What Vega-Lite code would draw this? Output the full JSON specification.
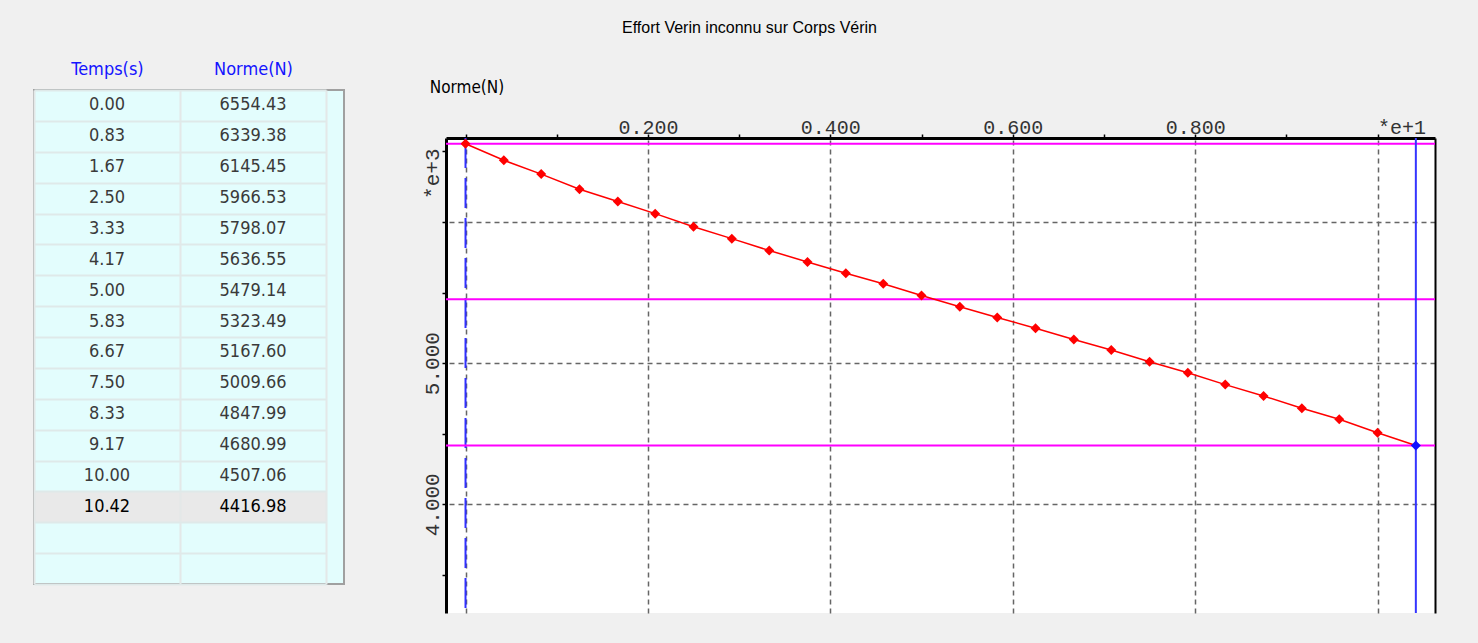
{
  "$schema": "https://vega.github.io/schema/vega-lite/v6.json",
  "background": "#f0f0f0",
  "padding": {"left": 33, "top": 20, "right": 43, "bottom": 35},
  "title": {"text": "Effort Verin inconnu sur Corps Vérin", "font": "Liberation Sans", "fontSize": 16, "fontWeight": "normal", "color": "#000", "anchor": "middle", "offset": 23, "dx": 15},
  "spacing": 76,
  "config": {"view": {"stroke": null}},
  "datasets": {
    "table": [
      {"row": 1, "t": 0.00, "n": 6554.43},
      {"row": 2, "t": 0.83, "n": 6339.38},
      {"row": 3, "t": 1.67, "n": 6145.45},
      {"row": 4, "t": 2.50, "n": 5966.53},
      {"row": 5, "t": 3.33, "n": 5798.07},
      {"row": 6, "t": 4.17, "n": 5636.55},
      {"row": 7, "t": 5.00, "n": 5479.14},
      {"row": 8, "t": 5.83, "n": 5323.49},
      {"row": 9, "t": 6.67, "n": 5167.60},
      {"row": 10, "t": 7.50, "n": 5009.66},
      {"row": 11, "t": 8.33, "n": 4847.99},
      {"row": 12, "t": 9.17, "n": 4680.99},
      {"row": 13, "t": 10.00, "n": 4507.06},
      {"row": 14, "t": 10.42, "n": 4416.98}
    ],
    "curve": [
      {"t": 0.00, "n": 6554.43},
      {"t": 0.42, "n": 6437},
      {"t": 0.83, "n": 6339.38},
      {"t": 1.25, "n": 6232},
      {"t": 1.67, "n": 6145.45},
      {"t": 2.08, "n": 6059},
      {"t": 2.50, "n": 5966.53},
      {"t": 2.92, "n": 5882},
      {"t": 3.33, "n": 5798.07},
      {"t": 3.75, "n": 5717},
      {"t": 4.17, "n": 5636.55},
      {"t": 4.58, "n": 5563},
      {"t": 5.00, "n": 5479.14},
      {"t": 5.42, "n": 5400},
      {"t": 5.83, "n": 5323.49},
      {"t": 6.25, "n": 5247},
      {"t": 6.67, "n": 5167.60},
      {"t": 7.08, "n": 5093},
      {"t": 7.50, "n": 5009.66},
      {"t": 7.92, "n": 4932},
      {"t": 8.33, "n": 4847.99},
      {"t": 8.75, "n": 4767},
      {"t": 9.17, "n": 4680.99},
      {"t": 9.58, "n": 4602},
      {"t": 10.00, "n": 4507.06},
      {"t": 10.42, "n": 4416.98}
    ],
    "cursors": [
      {"kind": "start", "t": 0},
      {"kind": "end", "t": 10.42}
    ],
    "levels": [
      {"n": 6554.43},
      {"n": 5452},
      {"n": 4416.98}
    ],
    "tabs": [
      {"series": "Norme(N)"}
    ]
  },
  "hconcat": [
    {
      "width": 310,
      "height": 494,
      "data": {"name": "table"},
      "view": {"fill": "#e3fdfd", "stroke": "#a0a0a0", "strokeWidth": 2},
      "encoding": {
        "y": {"field": "row", "type": "ordinal",
              "scale": {"type": "band", "domain": [1,2,3,4,5,6,7,8,9,10,11,12,13,14,15,16], "paddingInner": 0, "paddingOuter": 0},
              "axis": {"tickBand": "extent", "grid": true, "gridColor": "#dfe9e9", "gridWidth": 2, "labels": false, "ticks": false, "domain": false, "title": null}}
      },
      "layer": [
        {
          "transform": [{"filter": "datum.row == 14"}],
          "mark": {"type": "rect", "color": "#e9e9e9"},
          "encoding": {
            "x": {"datum": "Temps(s)", "type": "nominal",
                  "scale": {"type": "band", "domain": ["Temps(s)", "Norme(N)"], "range": [0, 292], "paddingInner": 0, "paddingOuter": 0},
                  "axis": {"orient": "top", "tickBand": "extent", "bandPosition": 0.5, "grid": true, "gridColor": "#e4e8e8", "gridWidth": 2, "ticks": false, "domain": false, "title": null, "labelAngle": 0, "labelAlign": "center", "labelBaseline": "bottom", "labelFont": "DejaVu Sans Condensed", "labelFontSize": 18, "labelColor": "#1414ff", "labelPadding": 12}}
          }
        },
        {
          "transform": [{"filter": "datum.row == 14"}],
          "mark": {"type": "rect", "color": "#e9e9e9"},
          "encoding": {
            "x": {"datum": "Norme(N)", "type": "nominal",
                  "scale": {"type": "band", "domain": ["Temps(s)", "Norme(N)"], "range": [0, 292], "paddingInner": 0, "paddingOuter": 0},
                  "axis": {"orient": "top", "tickBand": "extent", "bandPosition": 0.5, "grid": true, "gridColor": "#e4e8e8", "gridWidth": 2, "ticks": false, "domain": false, "title": null, "labelAngle": 0, "labelAlign": "center", "labelBaseline": "bottom", "labelFont": "DejaVu Sans Condensed", "labelFontSize": 18, "labelColor": "#1414ff", "labelPadding": 12}}
          }
        },
        {
          "mark": {"type": "text", "font": "DejaVu Sans Condensed", "fontSize": 18, "align": "center", "baseline": "middle"},
          "encoding": {
            "x": {"datum": "Temps(s)", "type": "nominal",
                  "scale": {"type": "band", "domain": ["Temps(s)", "Norme(N)"], "range": [0, 292], "paddingInner": 0, "paddingOuter": 0},
                  "axis": {"orient": "top", "tickBand": "extent", "bandPosition": 0.5, "grid": true, "gridColor": "#e4e8e8", "gridWidth": 2, "ticks": false, "domain": false, "title": null, "labelAngle": 0, "labelAlign": "center", "labelBaseline": "bottom", "labelFont": "DejaVu Sans Condensed", "labelFontSize": 18, "labelColor": "#1414ff", "labelPadding": 12}},
            "text": {"field": "t", "type": "quantitative", "format": ".2f"},
            "color": {"condition": {"test": "datum.row == 14", "value": "#000000"}, "value": "#3a3a3a"}
          }
        },
        {
          "mark": {"type": "text", "font": "DejaVu Sans Condensed", "fontSize": 18, "align": "center", "baseline": "middle"},
          "encoding": {
            "x": {"datum": "Norme(N)", "type": "nominal",
                  "scale": {"type": "band", "domain": ["Temps(s)", "Norme(N)"], "range": [0, 292], "paddingInner": 0, "paddingOuter": 0},
                  "axis": {"orient": "top", "tickBand": "extent", "bandPosition": 0.5, "grid": true, "gridColor": "#e4e8e8", "gridWidth": 2, "ticks": false, "domain": false, "title": null, "labelAngle": 0, "labelAlign": "center", "labelBaseline": "bottom", "labelFont": "DejaVu Sans Condensed", "labelFontSize": 18, "labelColor": "#1414ff", "labelPadding": 12}},
            "text": {"field": "n", "type": "quantitative", "format": ".2f"},
            "color": {"condition": {"test": "datum.row == 14", "value": "#000000"}, "value": "#3a3a3a"}
          }
        }
      ]
    },
    {
      "spacing": 13,
      "vconcat": [
        {
          "width": 42,
          "height": 14,
          "data": {"name": "tabs"},
          "view": {"stroke": null},
          "mark": {"type": "text", "font": "DejaVu Sans Condensed", "fontSize": 17, "align": "center", "baseline": "middle", "dy": -9, "color": "#000"},
          "encoding": {"text": {"field": "series", "type": "nominal"}}
        },
        {
          "width": 989,
          "height": 475,
          "view": {"fill": "#ffffff", "stroke": null},
          "resolve": {"axis": {"x": "independent", "y": "independent"}},
          "layer": [
            {
              "data": {"name": "cursors"},
              "transform": [{"filter": "datum.kind == 'start'"}],
              "mark": {"type": "rule", "color": "#3030ff", "strokeWidth": 2, "strokeDash": [30, 10]},
              "encoding": {
                "x": {"field": "t", "type": "quantitative",
                      "scale": {"domain": [-0.214, 10.63], "nice": false, "zero": false},
                      "axis": {"orient": "bottom", "values": [0, 2, 4, 6, 8, 10], "grid": true, "gridDash": [5, 4], "gridColor": "#666666", "gridWidth": 1.5, "ticks": false, "labels": false, "domain": false, "title": null}}
              }
            },
            {
              "data": {"name": "levels"},
              "mark": {"type": "rule", "color": "#ff00ff", "strokeWidth": 2},
              "encoding": {
                "y": {"field": "n", "type": "quantitative",
                      "scale": {"domain": [3230, 6595], "nice": false, "zero": false},
                      "axis": {"orient": "right", "values": [4000, 5000, 6000], "grid": true, "gridDash": [5, 4], "gridColor": "#666666", "gridWidth": 1.5, "ticks": false, "labels": false, "domain": true, "domainColor": "#000", "domainWidth": 2, "title": null}}
              }
            },
            {
              "data": {"name": "cursors"},
              "transform": [{"filter": "datum.kind == 'end'"}],
              "mark": {"type": "rule", "color": "#3535ff", "strokeWidth": 2},
              "encoding": {
                "x": {"field": "t", "type": "quantitative",
                      "scale": {"domain": [-0.214, 10.63], "nice": false, "zero": false},
                      "axis": null}
              }
            },
            {
              "data": {"name": "curve"},
              "mark": {"type": "line", "color": "#ff0000", "strokeWidth": 1.5},
              "encoding": {
                "x": {"field": "t", "type": "quantitative",
                      "scale": {"domain": [-0.214, 10.63], "nice": false, "zero": false},
                      "axis": {"orient": "top", "values": [0,1,2,3,4,5,6,7,8,9,10],
                               "labelExpr": "datum.value == 10 ? '*e+1' : (datum.value > 0 && datum.value % 2 == 0 ? format(datum.value / 10, '.3f') : '')",
                               "labelAlign": {"condition": {"test": "datum.value == 10", "value": "left"}, "value": "center"},
                               "labelBaseline": "alphabetic", "labelFont": "Liberation Mono", "labelFontSize": 20, "labelColor": "#333",
                               "labelPadding": 1, "labelOverlap": false, "labelFlush": false,
                               "tickSize": 4, "tickColor": "#000", "tickWidth": 1.5,
                               "domainColor": "#000", "domainWidth": 3, "grid": false, "title": null}},
                "y": {"field": "n", "type": "quantitative",
                      "scale": {"domain": [3230, 6595], "nice": false, "zero": false},
                      "axis": {"orient": "left", "values": [3500, 4000, 4500, 5000, 5500, 6000, 6500],
                               "labelExpr": "datum.value == 4000 || datum.value == 5000 ? format(datum.value / 1000, '.3f') : ''",
                               "labelAngle": 270, "labelAlign": "center", "labelBaseline": "alphabetic",
                               "labelFont": "Liberation Mono", "labelFontSize": 21, "labelColor": "#333",
                               "labelPadding": 4, "labelOverlap": false, "labelFlush": false,
                               "tickSize": 4, "tickColor": "#000", "tickWidth": 1.5,
                               "domainColor": "#000", "domainWidth": 3, "grid": false,
                               "title": "*e+3", "titleFont": "Liberation Mono", "titleFontSize": 21, "titleFontWeight": "normal", "titleColor": "#333",
                               "titleAngle": 270, "titleAlign": "right", "titleBaseline": "alphabetic", "titleX": -8, "titleY": 10}}
              }
            },
            {
              "data": {"name": "curve"},
              "mark": {"type": "point", "shape": "diamond", "filled": true, "size": 100, "opacity": 1},
              "encoding": {
                "x": {"field": "t", "type": "quantitative",
                      "scale": {"domain": [-0.214, 10.63], "nice": false, "zero": false}, "axis": null},
                "y": {"field": "n", "type": "quantitative",
                      "scale": {"domain": [3230, 6595], "nice": false, "zero": false}, "axis": null},
                "color": {"condition": {"test": "datum.t == 10.42", "value": "#1010ff"}, "value": "#ff0000"}
              }
            }
          ]
        }
      ]
    }
  ]
}
